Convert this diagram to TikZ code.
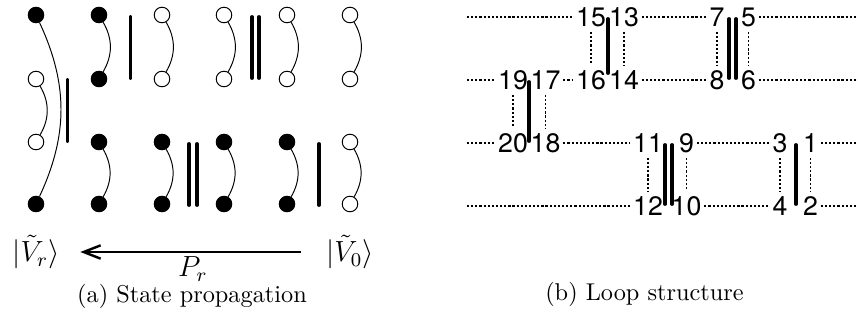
\documentclass[tikz,border=0pt]{standalone}
\usepackage{amsmath,amssymb}
\usepackage{fontspec}
\newfontfamily\loopfont{TeX Gyre Heros}
\usepackage{tikz}
\usetikzlibrary{arrows.meta}

\begin{document}
\begin{tikzpicture}[x=0.4115pt,y=0.4115pt,
                    site/.style={draw,circle,minimum size=6.4pt,inner sep=0pt,line width=0.4pt},
                    fullsite/.style={site,fill=black},
                    emptysite/.style={site,fill=white},
                    bond/.style={line width=1.6pt,line cap=round},
                    num/.style={font=\loopfont\fontsize{11}{13}\selectfont,inner xsep=1pt,inner ysep=2pt},
                    loopline/.style={line width=0.55pt,dash pattern=on 0.9pt off 0.8pt},
                    >={Straight Barb[length=7pt,width=5.5pt]}]
  \useasboundingbox (0,0) rectangle (856,327);
  % (a) sites, column by column
  \node[fullsite] (p11) at (36,312) {};   \node[emptysite] (p12) at (36,248) {};
  \node[emptysite] (p13) at (36,185) {};  \node[fullsite] (p14) at (36,123) {};
  \node[fullsite] (p21) at (99,312) {};   \node[fullsite] (p22) at (99,248) {};
  \node[fullsite] (p23) at (99,185) {};   \node[fullsite] (p24) at (99,123) {};
  \node[emptysite] (p31) at (162,312) {}; \node[emptysite] (p32) at (162,248) {};
  \node[fullsite] (p33) at (162,185) {};  \node[fullsite] (p34) at (162,123) {};
  \node[emptysite] (p41) at (224,312) {}; \node[emptysite] (p42) at (224,248) {};
  \node[fullsite] (p43) at (224,185) {};  \node[fullsite] (p44) at (224,123) {};
  \node[emptysite] (p51) at (287,312) {}; \node[emptysite] (p52) at (287,248) {};
  \node[fullsite] (p53) at (287,185) {};  \node[fullsite] (p54) at (287,123) {};
  \node[emptysite] (p61) at (350,312) {}; \node[emptysite] (p62) at (350,248) {};
  \node[emptysite] (p63) at (350,185) {}; \node[emptysite] (p64) at (350,123) {};
  % (a) pairings
  \draw (p11) to[bend left=25] (p14); \draw (p12) to[bend left=30] (p13);
  \draw (p21) to[bend left=30] (p22); \draw (p23) to[bend left=30] (p24);
  \draw (p31) to[bend left=30] (p32); \draw (p33) to[bend left=30] (p34);
  \draw (p41) to[bend left=30] (p42); \draw (p43) to[bend left=30] (p44);
  \draw (p51) to[bend left=30] (p52); \draw (p53) to[bend left=30] (p54);
  \draw (p61) to[bend left=30] (p62); \draw (p63) to[bend left=30] (p64);
  % (a) bonds
  \draw[bond] (67.5,247) -- (67.5,186);
  \draw[bond] (130.5,310) -- (130.5,249);
  \draw[bond] (252,310) -- (252,249); \draw[bond] (259,310) -- (259,249);
  \draw[bond] (189,183) -- (189,122); \draw[bond] (197,183) -- (197,122);
  \draw[bond] (319,183) -- (319,122);
  % (a) propagation
  \node[font=\large] (vr) at (36,75) {$|\tilde{V}_r\rangle$};
  \node[font=\large] (v0) at (350,75) {$|\tilde{V}_0\rangle$};
  \draw[->,line width=1pt,shorten >=5pt,shorten <=7pt] (v0) -- node[below=1pt,inner sep=0.5pt,font=\large] {$P_r$} (vr);
  \node (capa) at (192,31) {(a) State propagation};

  % (b) labels, row by row
  \node[num] (n15) at (591,310) {15}; \node[num] (n13) at (624,310) {13};
  \node[num] (n7) at (717,310) {7};   \node[num] (n5) at (748.5,310) {5};
  \node[num] (n19) at (513,247) {19}; \node[num] (n17) at (545.5,247) {17};
  \node[num] (n16) at (591,247) {16}; \node[num] (n14) at (624,247) {14};
  \node[num] (n8) at (717,247) {8};   \node[num] (n6) at (748.5,247) {6};
  \node[num] (n20) at (513,184) {20}; \node[num] (n18) at (545.5,184) {18};
  \node[num] (n11) at (648,184) {11}; \node[num] (n9) at (686.5,184) {9};
  \node[num] (n3) at (780,184) {3};   \node[num] (n1) at (810.5,184) {1};
  \node[num] (n12) at (648,121) {12}; \node[num] (n10) at (686.5,121) {10};
  \node[num] (n4) at (780,121) {4};   \node[num] (n2) at (810.5,121) {2};
  % (b) loose ends
  \coordinate (l1) at (467,310); \coordinate (r1) at (856,310);
  \coordinate (l2) at (467,247); \coordinate (r2) at (856,247);
  \coordinate (l3) at (467,184); \coordinate (r3) at (856,184);
  \coordinate (l4) at (467,121); \coordinate (r4) at (856,121);
  % (b) horizontal loop lines
  \draw[loopline] (l1) -- (n15); \draw[loopline] (n13) -- (n7); \draw[loopline] (n5) -- (r1);
  \draw[loopline] (l2) -- (n19); \draw[loopline] (n17) -- (n16);
  \draw[loopline] (n14) -- (n8); \draw[loopline] (n6) -- (r2);
  \draw[loopline] (l3) -- (n20); \draw[loopline] (n18) -- (n11);
  \draw[loopline] (n9) -- (n3); \draw[loopline] (n1) -- (r3);
  \draw[loopline] (l4) -- (n12); \draw[loopline] (n10) -- (n4); \draw[loopline] (n2) -- (r4);
  % (b) vertical loop lines
  \draw[loopline] (n15) -- (n16); \draw[loopline] (n13) -- (n14);
  \draw[loopline] (n7) -- (n8);   \draw[loopline] (n5) -- (n6);
  \draw[loopline] (n19) -- (n20); \draw[loopline] (n17) -- (n18);
  \draw[loopline] (n11) -- (n12); \draw[loopline] (n9) -- (n10);
  \draw[loopline] (n3) -- (n4);   \draw[loopline] (n1) -- (n2);
  % (b) bonds
  \draw[bond] (608,308) -- (608,254);
  \draw[bond] (729,308) -- (729,249); \draw[bond] (736,308) -- (736,249);
  \draw[bond] (529,245) -- (529,186);
  \draw[bond] (665,182) -- (665,123); \draw[bond] (672,182) -- (672,123);
  \draw[bond] (796,182) -- (796,123);
  \node (capb) at (644.5,33) {(b) Loop structure};
\end{tikzpicture}
\end{document}
